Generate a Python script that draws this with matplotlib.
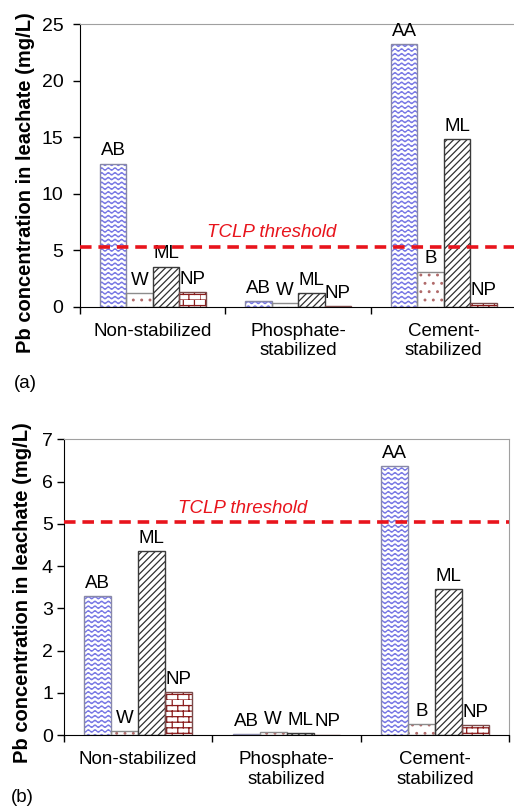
import warnings
import numpy as np
import matplotlib
matplotlib.use('Agg')
import matplotlib.pyplot as plt
import matplotlib.hatch as mhatch
from matplotlib.path import Path

warnings.filterwarnings('ignore')

# Pb in TCLP leachate, (a) and (b) panels
groups = ['Non-stabilized', 'Phosphate-\nstabilized', 'Cement-\nstabilized']
labels_first = ['AB', 'AB', 'AA']
labels_second = ['W', 'W', 'B']
labels_ml = ['ML', 'ML', 'ML']
labels_np = ['NP', 'NP', 'NP']

a_first = [12.65, 0.50, 23.25]
a_second = [1.18, 0.35, 3.10]
a_ml = [3.55, 1.24, 14.85]
a_np = [1.30, 0.05, 0.30]
a_tclp = 5.3

b_first = [3.29, 0.02, 6.37]
b_second = [0.10, 0.07, 0.25]
b_ml = [4.36, 0.05, 3.45]
b_np = [1.01, 0.01, 0.23]
b_tclp = 5.05


class WaveHatch(mhatch.HatchPatternBase):
    # horizontal wavy lines, '~' per density step
    def __init__(self, hatch, density):
        self.num_lines = int(hatch.count('~') * density * 0.875)
        self.periods = 15
        self.num_pts = self.periods * 8 + 1
        self.num_vertices = self.num_lines * self.num_pts

    def set_vertices_and_codes(self, vertices, codes):
        t = np.linspace(0.0, 1.0, self.num_pts)
        n = self.num_lines
        for i in range(n):
            s = slice(i * self.num_pts, (i + 1) * self.num_pts)
            vertices[s, 0] = t
            vertices[s, 1] = (i + 0.5) / n + 0.26 / n * np.sin(2 * np.pi * self.periods * t)
            codes[s] = Path.LINETO
            codes[i * self.num_pts] = Path.MOVETO


class BrickHatch(mhatch.HatchPatternBase):
    # brick wall: rows of mortar lines with staggered joints
    def __init__(self, hatch, density):
        self.num_rows = int(hatch.count('#') * density)
        self.num_cols = max(1, self.num_rows // 2)
        self.num_vertices = self.num_rows * (2 + 2 * self.num_cols)

    def set_vertices_and_codes(self, vertices, codes):
        n, m = self.num_rows, self.num_cols
        k = 0
        for i in range(n):
            y0, y1 = i / n, (i + 1) / n
            vertices[k] = (0.0, y0)
            vertices[k + 1] = (1.0, y0)
            codes[k] = Path.MOVETO
            codes[k + 1] = Path.LINETO
            k += 2
            shift = 0.5 / m if i % 2 else 0.0
            for j in range(m):
                x = j / m + shift
                vertices[k] = (x, y0)
                vertices[k + 1] = (x, y1)
                codes[k] = Path.MOVETO
                codes[k + 1] = Path.LINETO
                k += 2


mhatch._hatch_types.append(WaveHatch)
mhatch._hatch_types.append(BrickHatch)

plt.rcParams['font.family'] = ['Liberation Sans', 'DejaVu Sans']
plt.rcParams['hatch.linewidth'] = 0.9

styles = [
    dict(hatch='~~~~', color='#7676e4', edge='#8888a8'),
    dict(hatch='..', color='#b06a6a', edge='#8c8c8c'),
    dict(hatch='/////', color='#303030', edge='#3a3a3a'),
    dict(hatch='###', color='#8b1c1c', edge='#7a4a4a'),
]

x = np.arange(len(groups))
width = 0.182


def panel(ax, series, names, tclp, tclp_xy, ymax, tick_pad):
    for k, (vals, labs) in enumerate(zip(series, names)):
        st = styles[k]
        xs = x + (k - 1.5) * width
        ax.bar(xs, vals, width, color='white', hatch=st['hatch'],
               edgecolor=st['color'], linewidth=0, zorder=2)
        ax.bar(xs, vals, width, fill=False, edgecolor=st['edge'],
               linewidth=1.0, zorder=3)
        for xi, v, lab in zip(xs, vals, labs):
            ax.annotate(lab, (xi, v), xytext=(0, 3), textcoords='offset points',
                        ha='center', va='bottom', fontsize=13.5)
    ax.axhline(tclp, color='#e8141c', lw=2.6, ls=(0, (3.2, 1.9)), zorder=4)
    ax.text(tclp_xy[0], tclp_xy[1], 'TCLP threshold', color='#e8141c',
            style='italic', fontsize=13.5, ha='center', va='center')
    ax.set_xlim(-0.5, 2.5)
    ax.set_ylim(0, ymax)
    ax.set_xticks(x)
    ax.set_xticklabels(groups, fontsize=13.5, linespacing=1.2)
    ax.set_xticks([-0.5, 0.5, 1.5, 2.5], minor=True)
    ax.tick_params(axis='x', which='major', length=0, pad=11.5)
    ax.tick_params(axis='x', which='minor', length=5, width=1, direction='out')
    ax.tick_params(axis='y', length=5, width=1, direction='out', labelsize=14,
                   pad=tick_pad)
    for side in ['top', 'right']:
        ax.spines[side].set_color('#a0a0a0')
    for side in ['left', 'bottom']:
        ax.spines[side].set_color('black')


fig = plt.figure(figsize=(5.14, 8.11), dpi=100)

ax1 = fig.add_axes([0.1556, 0.6218, 0.8492, 0.3486])
panel(ax1, [a_first, a_second, a_ml, a_np],
      [labels_first, labels_second, labels_ml, labels_np],
      a_tclp, (0.8175, 6.6), 25, 7)
ax1.set_yticks([0, 5, 10, 15, 20, 25])

ax2 = fig.add_axes([0.1245, 0.0937, 0.8658, 0.3646])
panel(ax2, [b_first, b_second, b_ml, b_np],
      [labels_first, labels_second, labels_ml, labels_np],
      b_tclp, (0.707, 5.37), 7, 3)
ax2.set_yticks(range(0, 8))

ylab = 'Pb concentration in leachate (mg/L)'
fig.text(26 / 514, 1 - 182.5 / 811, ylab, rotation=90, fontsize=14.5,
         fontweight='bold', ha='center', va='center')
fig.text(23 / 514, 1 - 592.5 / 811, ylab, rotation=90, fontsize=14.5,
         fontweight='bold', ha='center', va='center')
fig.text(14 / 514, 1 - 383 / 811, '(a)', fontsize=13.5, ha='left', va='center')
fig.text(11 / 514, 1 - 798 / 811, '(b)', fontsize=13.5, ha='left', va='center')

fig.savefig('out.png', dpi=100)
